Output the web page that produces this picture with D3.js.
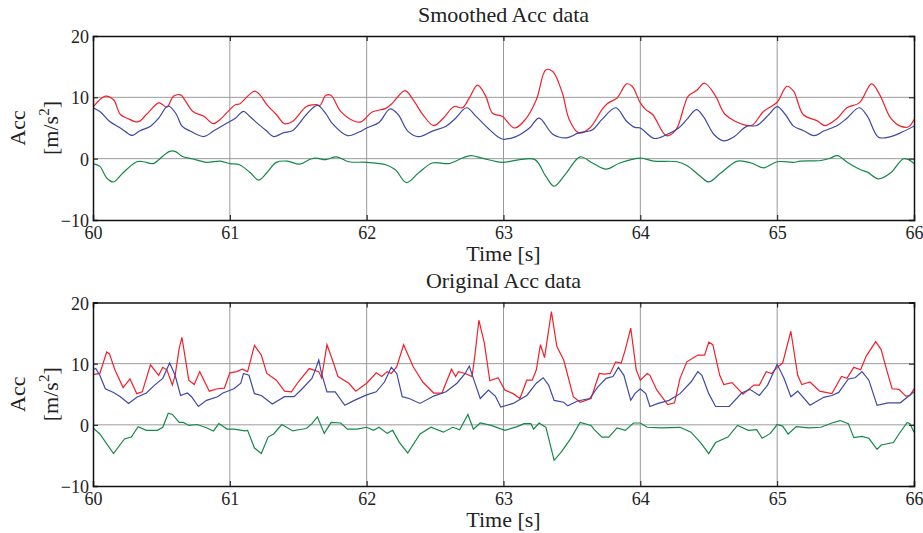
<!DOCTYPE html>
<html>
<head>
<meta charset="utf-8">
<script src="https://cdn.jsdelivr.net/npm/d3@7"></script>
<style>
  body { margin: 0; background: #fff; }
  svg text { font-family: "Liberation Serif", "Times New Roman", serif; fill: #222; }
</style>
</head>
<body>
<svg id="chart" width="923" height="533"></svg>
<script>
// data: [time s, acc m/s^2]
var smoothRed = [[60.0,8.4],[60.09,10.2],[60.15,9.6],[60.2,7.2],[60.25,6.6],[60.33,6.0],[60.39,7.2],[60.48,9.1],[60.51,8.8],[60.54,8.4],[60.59,10.2],[60.64,10.4],[60.67,9.6],[60.73,7.7],[60.81,6.9],[60.88,5.7],[60.93,6.4],[61.0,8.0],[61.04,8.8],[61.07,8.9],[61.14,10.4],[61.18,11.0],[61.22,10.4],[61.27,8.8],[61.34,7.2],[61.4,5.7],[61.46,6.1],[61.56,8.5],[61.63,8.8],[61.66,8.7],[61.7,10.3],[61.74,10.3],[61.81,7.7],[61.91,6.1],[61.96,6.0],[62.04,7.6],[62.14,8.2],[62.19,9.1],[62.28,11.1],[62.34,9.6],[62.41,7.2],[62.49,5.4],[62.56,6.6],[62.64,8.5],[62.7,8.3],[62.75,9.9],[62.81,12.0],[62.87,10.2],[62.92,7.4],[62.99,6.9],[63.08,5.0],[63.16,6.4],[63.24,9.6],[63.31,14.5],[63.36,14.2],[63.43,10.7],[63.48,6.4],[63.55,4.2],[63.63,5.0],[63.72,8.0],[63.76,9.0],[63.83,9.9],[63.9,12.2],[63.94,11.8],[64.0,9.1],[64.04,8.0],[64.09,7.2],[64.19,3.75],[64.26,4.7],[64.35,10.2],[64.41,11.1],[64.47,12.3],[64.55,10.2],[64.62,7.2],[64.76,5.5],[64.82,5.5],[64.9,7.7],[65.0,9.2],[65.07,11.8],[65.12,11.0],[65.19,7.2],[65.29,6.2],[65.35,5.4],[65.44,6.6],[65.51,8.3],[65.6,9.1],[65.69,12.2],[65.75,10.4],[65.83,6.6],[65.9,5.3],[65.96,5.2],[66.0,6.4]];
var smoothBlue = [[60.0,8.3],[60.05,7.7],[60.12,6.1],[60.2,5.0],[60.27,3.9],[60.29,3.8],[60.34,4.5],[60.42,5.3],[60.48,6.6],[60.54,8.5],[60.56,8.5],[60.61,7.2],[60.65,5.3],[60.71,4.5],[60.81,3.6],[60.88,4.5],[60.98,5.8],[61.04,6.6],[61.1,7.7],[61.14,7.0],[61.2,5.8],[61.27,4.5],[61.32,3.6],[61.39,4.2],[61.46,4.6],[61.56,7.2],[61.64,8.7],[61.7,7.4],[61.75,5.7],[61.86,3.75],[61.94,4.3],[62.0,5.0],[62.09,5.9],[62.17,8.1],[62.23,7.2],[62.3,4.5],[62.38,3.6],[62.48,4.5],[62.58,5.3],[62.65,6.6],[62.73,8.3],[62.8,6.9],[62.9,4.7],[62.99,3.2],[63.09,3.6],[63.19,5.0],[63.26,6.6],[63.36,4.0],[63.46,3.4],[63.55,4.2],[63.65,4.7],[63.72,6.4],[63.82,8.3],[63.9,6.1],[63.96,5.1],[64.0,5.0],[64.1,3.3],[64.19,3.9],[64.28,5.0],[64.34,6.4],[64.41,8.0],[64.46,6.9],[64.54,3.9],[64.61,2.9],[64.68,3.5],[64.78,5.3],[64.85,5.4],[64.94,7.2],[65.0,8.5],[65.06,7.2],[65.12,5.3],[65.19,4.6],[65.27,3.75],[65.34,4.5],[65.44,5.4],[65.51,6.6],[65.6,8.3],[65.66,6.9],[65.74,3.5],[65.83,3.6],[65.9,4.2],[66.0,5.3]];
var smoothGreen = [[60.0,-0.8],[60.05,-1.25],[60.1,-3.15],[60.15,-3.8],[60.22,-2.3],[60.32,-0.5],[60.37,-0.5],[60.44,-0.8],[60.51,0.4],[60.56,1.2],[60.6,1.2],[60.65,0.4],[60.73,-0.05],[60.83,-0.6],[60.93,-0.4],[61.0,-0.8],[61.07,-1.0],[61.15,-2.3],[61.21,-3.5],[61.27,-2.3],[61.34,-0.6],[61.42,-0.4],[61.51,-0.9],[61.59,-0.05],[61.63,0.1],[61.7,-0.16],[61.78,0.3],[61.87,-0.5],[62.0,-0.6],[62.14,-1.0],[62.21,-1.8],[62.29,-3.9],[62.38,-2.3],[62.48,-0.7],[62.6,-0.8],[62.7,0.1],[62.76,0.5],[62.85,0.05],[62.99,-0.6],[63.12,-0.16],[63.23,-0.16],[63.31,-2.9],[63.37,-4.5],[63.46,-2.3],[63.56,0.3],[63.65,-0.7],[63.75,-1.7],[63.85,-0.7],[64.0,0.1],[64.1,-0.4],[64.27,-0.5],[64.34,-1.1],[64.44,-2.9],[64.5,-3.8],[64.59,-2.3],[64.71,-0.4],[64.81,-0.7],[64.9,-1.5],[65.0,-0.5],[65.12,-0.6],[65.17,-0.4],[65.32,-0.3],[65.39,0.1],[65.44,0.5],[65.52,-0.7],[65.61,-1.8],[65.66,-2.2],[65.74,-3.3],[65.83,-2.3],[65.92,-0.05],[65.96,-0.16],[66.0,-0.8]];

var origRed = [[60.0,8.2],[60.05,8.4],[60.1,11.9],[60.12,11.6],[60.16,9.0],[60.22,6.1],[60.27,7.5],[60.32,5.1],[60.36,5.4],[60.42,9.8],[60.48,8.1],[60.51,9.4],[60.54,9.0],[60.58,6.5],[60.6,8.1],[60.63,12.5],[60.65,14.3],[60.7,7.3],[60.74,6.6],[60.78,8.7],[60.85,5.5],[60.91,5.9],[60.96,6.0],[61.0,8.5],[61.05,8.7],[61.09,9.1],[61.13,8.7],[61.18,13.0],[61.23,11.4],[61.27,8.4],[61.34,7.3],[61.4,5.5],[61.45,5.4],[61.5,7.0],[61.58,9.2],[61.65,8.7],[61.67,7.7],[61.71,13.1],[61.75,10.6],[61.79,7.9],[61.87,6.8],[61.92,5.5],[62.0,6.8],[62.07,8.5],[62.11,7.9],[62.15,8.7],[62.18,8.4],[62.22,9.5],[62.27,13.1],[62.34,9.5],[62.41,7.0],[62.49,5.2],[62.55,5.2],[62.62,9.1],[62.65,7.9],[62.67,8.7],[62.72,8.4],[62.77,7.9],[62.79,11.2],[62.82,17.1],[62.86,13.4],[62.9,7.2],[62.96,7.7],[63.01,5.7],[63.07,5.1],[63.12,4.3],[63.17,7.3],[63.21,7.3],[63.24,9.0],[63.27,13.1],[63.3,11.0],[63.35,18.5],[63.39,12.8],[63.44,10.6],[63.51,4.6],[63.56,3.7],[63.64,4.3],[63.7,8.4],[63.74,8.3],[63.78,8.4],[63.82,10.3],[63.86,10.1],[63.89,12.3],[63.93,15.8],[63.97,9.0],[64.0,7.3],[64.05,8.4],[64.07,8.1],[64.12,5.7],[64.2,3.3],[64.25,3.6],[64.29,7.6],[64.34,10.3],[64.42,11.4],[64.47,11.4],[64.5,13.5],[64.53,13.1],[64.58,8.1],[64.61,6.6],[64.67,6.9],[64.75,5.0],[64.83,6.5],[64.87,6.5],[64.92,8.7],[64.96,8.4],[65.0,9.4],[65.04,10.1],[65.1,15.3],[65.15,8.1],[65.18,6.6],[65.24,7.0],[65.31,5.5],[65.4,5.1],[65.47,7.9],[65.51,7.6],[65.56,9.4],[65.61,9.0],[65.65,11.2],[65.72,13.6],[65.76,12.3],[65.8,9.0],[65.84,5.9],[65.89,5.8],[65.94,4.7],[65.97,4.8],[66.0,5.9]];
var origBlue = [[60.0,9.0],[60.02,9.2],[60.05,8.1],[60.09,5.9],[60.15,5.3],[60.2,4.6],[60.26,3.5],[60.32,4.5],[60.39,5.2],[60.45,6.5],[60.51,7.6],[60.56,10.1],[60.6,8.1],[60.64,4.8],[60.69,5.2],[60.72,4.6],[60.77,3.0],[60.83,4.0],[60.91,4.6],[60.95,5.2],[61.03,5.9],[61.08,6.8],[61.1,8.4],[61.14,8.1],[61.18,5.1],[61.23,4.8],[61.31,3.4],[61.4,4.6],[61.47,4.6],[61.52,5.7],[61.6,7.6],[61.62,8.7],[61.65,10.6],[61.67,8.4],[61.71,5.4],[61.77,5.4],[61.84,3.2],[61.91,4.0],[62.0,4.9],[62.07,5.4],[62.13,7.0],[62.18,9.4],[62.22,8.4],[62.26,4.6],[62.31,4.3],[62.39,3.5],[62.49,4.7],[62.58,5.4],[62.66,6.8],[62.72,8.4],[62.75,9.6],[62.78,7.6],[62.83,4.3],[62.89,5.7],[62.94,4.7],[62.98,2.9],[63.07,3.5],[63.17,4.8],[63.24,6.8],[63.29,7.7],[63.33,6.5],[63.37,4.0],[63.44,3.7],[63.47,3.1],[63.54,3.9],[63.63,4.3],[63.69,6.2],[63.75,7.6],[63.8,7.9],[63.84,9.4],[63.88,8.1],[63.93,4.0],[63.96,5.1],[64.0,5.9],[64.04,5.1],[64.07,3.0],[64.13,3.5],[64.21,4.0],[64.29,5.1],[64.37,7.0],[64.42,8.7],[64.45,8.1],[64.5,5.1],[64.55,3.0],[64.65,3.0],[64.74,5.2],[64.8,5.8],[64.87,4.8],[64.93,6.5],[65.0,9.9],[65.05,7.6],[65.1,4.6],[65.15,5.5],[65.24,3.2],[65.34,4.5],[65.4,4.8],[65.45,5.3],[65.52,7.5],[65.57,7.7],[65.62,8.7],[65.67,7.3],[65.73,3.2],[65.81,3.6],[65.9,3.6],[66.0,5.4]];
var origGreen = [[60.0,-0.5],[60.05,-1.5],[60.15,-4.7],[60.23,-2.3],[60.28,-2.0],[60.33,-0.3],[60.39,-0.9],[60.47,-0.9],[60.51,-0.4],[60.55,1.9],[60.58,1.7],[60.63,0.4],[60.66,0.4],[60.7,-0.1],[60.76,0.05],[60.82,-0.4],[60.88,-1.0],[60.92,0.2],[60.98,-0.7],[61.03,-0.7],[61.11,-1.0],[61.13,-0.9],[61.18,-3.8],[61.23,-4.7],[61.28,-2.0],[61.32,-1.5],[61.38,0.05],[61.46,-1.0],[61.5,-0.8],[61.56,-0.6],[61.6,0.2],[61.64,1.3],[61.69,-1.4],[61.74,0.4],[61.81,0.3],[61.86,-0.7],[61.93,-0.7],[62.0,-0.4],[62.05,-0.9],[62.09,-0.4],[62.15,-1.4],[62.19,-0.9],[62.24,-2.9],[62.3,-4.6],[62.39,-1.5],[62.47,-0.4],[62.56,-1.2],[62.63,-0.4],[62.68,-0.8],[62.74,1.7],[62.78,-0.7],[62.83,0.3],[62.91,-0.1],[63.01,-0.9],[63.1,-0.3],[63.15,0.2],[63.2,0.2],[63.22,-0.7],[63.26,0.3],[63.31,-0.4],[63.37,-5.8],[63.42,-4.5],[63.49,-2.3],[63.56,0.4],[63.64,-0.1],[63.66,-0.7],[63.72,-2.0],[63.77,-2.0],[63.83,-0.5],[63.89,-0.9],[63.95,0.3],[64.0,0.3],[64.05,-0.4],[64.15,-0.5],[64.29,-0.4],[64.37,-1.2],[64.44,-2.9],[64.5,-4.7],[64.55,-2.9],[64.64,-2.0],[64.71,-0.1],[64.79,-0.9],[64.85,-0.8],[64.89,-2.2],[64.95,-1.4],[65.0,0.05],[65.04,-0.2],[65.08,-1.5],[65.14,-0.3],[65.23,-0.5],[65.32,-0.4],[65.4,0.3],[65.46,0.7],[65.52,0.2],[65.56,-2.1],[65.62,-1.9],[65.67,-2.2],[65.73,-4.0],[65.76,-3.3],[65.85,-2.9],[65.89,-1.5],[65.95,0.4],[65.97,0.2],[66.0,-1.2]];

var xTicks = [60, 61, 62, 63, 64, 65, 66];
var yTicks = [-10, 0, 10, 20];
var titles = ["Smoothed Acc data", "Original Acc data"];
var seriesColors = ["#f0202c", "#3e48a6", "#14884a"];

var svg = d3.select("#chart");
var left = 93, right = 914;
var serif = "'Liberation Serif', 'Times New Roman', serif";

var panels = [
  { title: titles[0], lines: [smoothRed, smoothBlue, smoothGreen], top: 36, bottom: 220, curve: d3.curveCatmullRom.alpha(0.5) },
  { title: titles[1], lines: [origRed, origBlue, origGreen], top: 302.5, bottom: 486, curve: d3.curveLinear }
];

var x = d3.scaleLinear().domain([60, 66]).range([left, right]);

panels.forEach(function(p, i) {
  var y = d3.scaleLinear().domain([-10, 20]).range([p.bottom, p.top]);
  var g = svg.append("g");

  // grid
  g.selectAll(".gx").data(xTicks.slice(1, -1)).enter().append("line")
    .attr("x1", d => x(d)).attr("x2", d => x(d))
    .attr("y1", p.top).attr("y2", p.bottom)
    .attr("stroke", "#9a9a9a").attr("stroke-width", 1);
  g.selectAll(".gy").data(yTicks.slice(1, -1)).enter().append("line")
    .attr("x1", left).attr("x2", right)
    .attr("y1", d => y(d)).attr("y2", d => y(d))
    .attr("stroke", "#9a9a9a").attr("stroke-width", 1);

  // lines
  g.append("clipPath").attr("id", "clip" + i).append("rect")
    .attr("x", left).attr("y", p.top).attr("width", right - left).attr("height", p.bottom - p.top);
  var line = d3.line().x(d => x(d[0])).y(d => y(d[1])).curve(p.curve);
  p.lines.forEach(function(s, k) {
    g.append("path").datum(s)
      .attr("clip-path", "url(#clip" + i + ")")
      .attr("d", line)
      .attr("fill", "none")
      .attr("stroke", seriesColors[k])
      .attr("stroke-width", 1.2);
  });

  // axes (matlab box, ticks pointing in)
  var axB = d3.axisBottom(x).tickValues(xTicks).tickSize(-5).tickFormat(d3.format("d"));
  var axT = d3.axisTop(x).tickValues(xTicks).tickSize(-5).tickFormat("");
  var axL = d3.axisLeft(y).tickValues(yTicks).tickSize(-5);
  var axR = d3.axisRight(y).tickValues(yTicks).tickSize(-5).tickFormat("");

  var gb = g.append("g").attr("transform", "translate(0," + p.bottom + ")").call(axB);
  var gt = g.append("g").attr("transform", "translate(0," + p.top + ")").call(axT);
  var gl = g.append("g").attr("transform", "translate(" + left + ",0)").call(axL);
  var gr = g.append("g").attr("transform", "translate(" + right + ",0)").call(axR);
  [gb, gt, gl, gr].forEach(function(a) {
    a.attr("font-family", serif).attr("font-size", 18);
    a.select(".domain").attr("stroke", "#111").attr("stroke-width", 1.5);
    a.selectAll(".tick line").attr("stroke", "#111");
    a.selectAll("text").attr("fill", "#222").style("font-family", serif).style("font-size", "18px");
  });
  gb.selectAll("text").attr("dy", null).attr("y", 18.5);
  gl.selectAll("text").attr("dy", null).attr("x", -4).attr("y", 6.5);

  // title
  svg.append("text").attr("x", (left + right) / 2).attr("y", p.top - 14.5)
    .attr("text-anchor", "middle").attr("font-size", 22).text(p.title);

  // x label
  svg.append("text").attr("x", (left + right) / 2).attr("y", p.bottom + 41)
    .attr("text-anchor", "middle").attr("font-size", 22).text("Time [s]");

  // y label (two lines)
  var cy = (p.top + p.bottom) / 2;
  svg.append("text").attr("transform", "translate(25," + cy + ") rotate(-90)")
    .attr("text-anchor", "middle").attr("font-size", 22).text("Acc");
  var yl = svg.append("text").attr("transform", "translate(58," + cy + ") rotate(-90)")
    .attr("text-anchor", "middle").attr("font-size", 22);
  yl.append("tspan").text("[m/s");
  yl.append("tspan").attr("font-size", 15).attr("dy", -9).text("2");
  yl.append("tspan").attr("dy", 9).text("]");
});
</script>
</body>
</html>
